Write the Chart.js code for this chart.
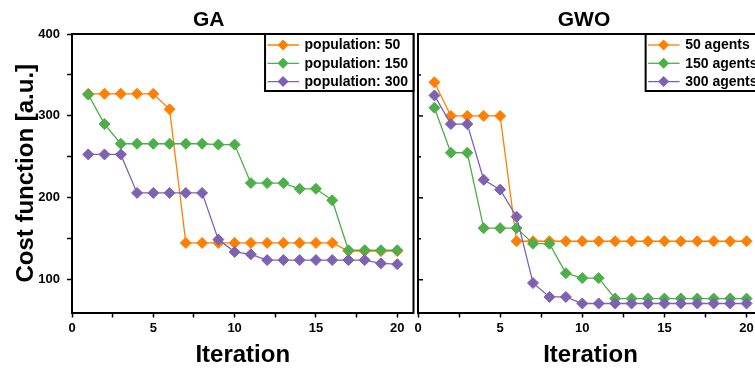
<!DOCTYPE html>
<html>
<head>
<meta charset="utf-8">
<script src="https://cdn.jsdelivr.net/npm/chart.js@4.4.0/dist/chart.umd.min.js"></script>
<style>
html, body { margin: 0; padding: 0; background: #fff; overflow: hidden; width: 755px; height: 372px; }
canvas { position: absolute; top: 0; }
#gaChart { left: 0; }
#gwoChart { left: 405px; }
</style>
</head>
<body>
<canvas id="gaChart" width="420" height="372"></canvas>
<canvas id="gwoChart" width="370" height="372"></canvas>
<script>
// data
const iterations = [1,2,3,4,5,6,7,8,9,10,11,12,13,14,15,16,17,18,19,20];

const gaPop50  = [327,327,327,327,327,308,145,145,145,145,145,145,145,145,145,145,135,135,135,135];
const gaPop150 = [326,290,266,266,266,266,266,266,265,265,218,218,218,211,211,197,136,136,136,136];
const gaPop300 = [253,253,253,206,206,206,206,206,149,134,131,124,124,124,124,124,124,124,120,119];

const gwo50  = [341,300,300,300,300,147,147,147,147,147,147,147,147,147,147,147,147,147,147,147];
const gwo150 = [310,255,255,163,163,163,144,144,108,102,102,77,77,77,77,77,77,77,77,77];
const gwo300 = [325,290,290,222,210,177,96,79,79,71,71,71,71,71,71,71,71,71,71,71];

const gaLabels  = ["population: 50", "population: 150", "population: 300"];
const gwoLabels = ["50 agents", "150 agents", "300 agents"];

// labelled ticks and all tick marks (minor ones unlabelled)
const yTicks = [100, 200, 300, 400];
const yMarks = [100, 150, 200, 250, 300, 350, 400];
const xTicks = [0, 5, 10, 15, 20];
const xMarks = [0, 2.5, 5, 7.5, 10, 12.5, 15, 17.5, 20];

const colors = ["#ff7f00", "#4daf4a", "#7e62b2"];
const FONT = '"Liberation Sans", Arial, sans-serif';

function series(label, values, i) {
  return {
    label: label,
    data: iterations.map((x, k) => ({x: x, y: values[k]})),
    borderColor: colors[i],
    backgroundColor: colors[i],
    borderWidth: 1.3,
    pointStyle: "rectRot",
    pointRadius: 5.5,
    pointBorderWidth: 1,
    pointHoverRadius: 5.5,
    order: 3 - i
  };
}

// top + right frame lines, and inward y ticks on the right panel
const frame = {
  id: "frame",
  afterDraw(chart, args, opts) {
    const {ctx, chartArea: a} = chart;
    ctx.save();
    ctx.strokeStyle = "#000";
    ctx.lineWidth = 2;
    ctx.beginPath();
    ctx.moveTo(a.left - 1, a.top);
    ctx.lineTo(a.right, a.top);
    ctx.lineTo(a.right, a.bottom + 1);
    ctx.stroke();
    if (opts.innerTicks) {
      const y = chart.scales.y;
      ctx.lineWidth = 1.5;
      y.ticks.forEach(t => {
        const py = y.getPixelForValue(t.value);
        const len = t.value % 100 === 0 ? 5 : 3;
        ctx.beginPath();
        ctx.moveTo(a.left, py);
        ctx.lineTo(a.left + len, py);
        ctx.stroke();
      });
    }
    ctx.restore();
  }
};

// boxed legend in the upper right corner of the plot
const boxLegend = {
  id: "boxLegend",
  afterDraw(chart) {
    const {ctx, chartArea: a} = chart;
    const sets = chart.data.datasets;
    ctx.save();
    ctx.font = "bold 14px " + FONT;
    const textW = Math.max(...sets.map(d => ctx.measureText(d.label).width));
    const w = textW + 45, h = 57, rowH = 18.3;
    const x0 = a.right - w, y0 = a.top;
    ctx.fillStyle = "#fff";
    ctx.fillRect(x0, y0, w, h);
    ctx.strokeStyle = "#000";
    ctx.lineWidth = 2;
    ctx.strokeRect(x0, y0, w, h);
    sets.forEach((d, i) => {
      const y = y0 + 11 + i * rowH;
      ctx.strokeStyle = d.borderColor;
      ctx.lineWidth = 1.3;
      ctx.beginPath();
      ctx.moveTo(x0 + 2.5, y);
      ctx.lineTo(x0 + 34, y);
      ctx.stroke();
      const cx = x0 + 18, r = 5.5;
      ctx.fillStyle = d.borderColor;
      ctx.beginPath();
      ctx.moveTo(cx - r, y); ctx.lineTo(cx, y - r); ctx.lineTo(cx + r, y); ctx.lineTo(cx, y + r);
      ctx.closePath();
      ctx.fill();
      ctx.fillStyle = "#000";
      ctx.textBaseline = "middle";
      ctx.textAlign = "left";
      ctx.fillText(d.label, x0 + 39.5, y + 0.5);
    });
    ctx.restore();
  }
};

function makeOptions(title, isLeft) {
  return {
    responsive: false,
    animation: false,
    layout: { padding: { left: 0, right: isLeft ? 2.5 : 12, top: 0, bottom: 0 } },
    plugins: {
      legend: { display: false },
      tooltip: { enabled: false },
      title: {
        display: true, text: title, color: "#000",
        font: { family: FONT, size: 21, weight: "bold" },
        padding: { top: 8, bottom: 0.8 }
      },
      frame: { innerTicks: !isLeft }
    },
    scales: {
      x: {
        type: "linear", min: 0, max: 21,
        afterBuildTicks: s => { s.ticks = xMarks.map(v => ({value: v})); },
        afterFit: s => { s.height = 59.5; },
        ticks: {
          autoSkip: false, maxRotation: 0, padding: 3, color: "#000",
          font: { family: FONT, size: 13, weight: "bold" },
          callback: v => xTicks.includes(v) ? v : ""
        },
        grid: {
          drawOnChartArea: false, drawTicks: true, tickLength: 5,
          tickColor: "#000", tickWidth: 1.5
        },
        border: { display: true, color: "#000", width: 2 },
        title: {
          display: true, text: "Iteration", color: "#000",
          font: { family: FONT, size: 24, weight: "bold" },
          padding: { top: 0, bottom: 2 }
        }
      },
      y: {
        min: 60, max: 400,
        afterBuildTicks: s => { s.ticks = yMarks.map(v => ({value: v})); },
        afterFit: s => { s.width = isLeft ? 72 : 13; },
        ticks: {
          display: isLeft, autoSkip: false, padding: 7, color: "#000",
          font: { family: FONT, size: 13, weight: "bold" },
          callback: v => yTicks.includes(v) ? v : ""
        },
        grid: {
          drawOnChartArea: false, drawTicks: isLeft, tickLength: 5,
          tickColor: "#000", tickWidth: 1.5
        },
        border: { display: true, color: "#000", width: 2 },
        title: {
          display: isLeft, text: "Cost function [a.u.]", color: "#000",
          font: { family: FONT, size: 24, weight: "bold" },
          padding: { top: 11.5, bottom: 0 }
        }
      }
    }
  };
}

new Chart(document.getElementById("gaChart"), {
  type: "line",
  data: { datasets: [
    series(gaLabels[0], gaPop50, 0),
    series(gaLabels[1], gaPop150, 1),
    series(gaLabels[2], gaPop300, 2)
  ] },
  options: makeOptions("GA", true),
  plugins: [frame, boxLegend]
});

new Chart(document.getElementById("gwoChart"), {
  type: "line",
  data: { datasets: [
    series(gwoLabels[0], gwo50, 0),
    series(gwoLabels[1], gwo150, 1),
    series(gwoLabels[2], gwo300, 2)
  ] },
  options: makeOptions("GWO", false),
  plugins: [frame, boxLegend]
});
</script>
</body>
</html>
